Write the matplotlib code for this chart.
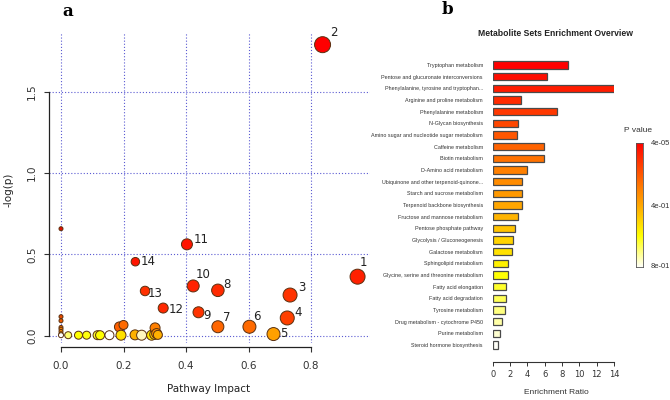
import matplotlib
matplotlib.use('Agg')
import matplotlib.pyplot as plt
import numpy as np
from matplotlib.colors import LinearSegmentedColormap

# ---------------- Panel a data ----------------
impact = [0.949, 0.837, 0.733, 0.724, 0.680, 0.603, 0.502, 0.502, 0.440, 0.423,
          0.403, 0.327, 0.269, 0.238,
          0.0, 0.0, 0.0, 0.0, 0.0, 0.0, 0.0, 0.0,
          0.023, 0.056, 0.082, 0.117, 0.125, 0.155, 0.187, 0.200, 0.192,
          0.237, 0.258, 0.290, 0.300, 0.301, 0.306, 0.310]
neglogp = [0.363, 1.790, 0.250, 0.109, 0.010, 0.055, 0.055, 0.279, 0.144, 0.306,
           0.562, 0.170, 0.275, 0.455,
           0.658, 0.117, 0.092, 0.051, 0.040, 0.026, 0.012, 0.003,
           0.003, 0.003, 0.003, 0.003, 0.003, 0.003, 0.054, 0.066, 0.003,
           0.005, 0.003, 0.003, 0.008, 0.048, 0.013, 0.005]
point_labels = ['1', '2', '3', '4', '5', '6', '7', '8', '9', '10', '11', '12', '13', '14'] + [''] * 24

# styles for panel a (colour and diameter in px)
point_colors = ['#FF2000', '#FF0000', '#FF3300', '#FF4000', '#FFA000', '#FF6A00', '#FF6600',
                '#FF2A00', '#FF3300', '#FF2200', '#FF1500', '#FF2800', '#FF3000', '#FF1500',
                '#E01000', '#E84A00', '#EE5A00', '#F06A00', '#F27A00', '#F48800', '#FFB000', '#FFFFFF',
                '#FFFF70', '#FFFF00', '#FFFF10', '#FFFF30', '#FFFF00', '#FFFFFF', '#FF6000', '#FF6A00', '#FFE000',
                '#FFB000', '#FFF6C0', '#FFE800', '#FFD000', '#FF8000', '#FF9000', '#FFB000']
point_diam = [15, 16, 14, 14, 13, 13, 12, 12.5, 11, 12, 11, 10, 9.5, 8.5,
              4, 4, 4, 4, 4, 4, 4, 5,
              7, 8, 8, 9, 9, 9, 10, 9, 10,
              10, 10, 10, 10, 10, 10, 9]
label_offsets_px = [(6, -14), (11, -12), (12, -8), (11, -5), (10, -1), (7, -10), (9, -9),
                    (9, -6), (8, 3), (10, -11), (14, -5), (13, 1), (10, 3), (13, 0)]

impact_ticks = [0.0, 0.2, 0.4, 0.6, 0.8]
logp_ticks = [0.0, 0.5, 1.0, 1.5]

# ---------------- Panel b data ----------------
pathways = ['Tryptophan metabolism',
            'Pentose and glucuronate interconversions',
            'Phenylalanine, tyrosine and tryptophan...',
            'Arginine and proline metabolism',
            'Phenylalanine metabolism',
            'N-Glycan biosynthesis',
            'Amino sugar and nucleotide sugar metabolism',
            'Caffeine metabolism',
            'Biotin metabolism',
            'D-Amino acid metabolism',
            'Ubiquinone and other terpenoid-quinone...',
            'Starch and sucrose metabolism',
            'Terpenoid backbone biosynthesis',
            'Fructose and mannose metabolism',
            'Pentose phosphate pathway',
            'Glycolysis / Gluconeogenesis',
            'Galactose metabolism',
            'Sphingolipid metabolism',
            'Glycine, serine and threonine metabolism',
            'Fatty acid elongation',
            'Fatty acid degradation',
            'Tyrosine metabolism',
            'Drug metabolism - cytochrome P450',
            'Purine metabolism',
            'Steroid hormone biosynthesis']
enrichment = [8.65, 6.23, 14.8, 3.27, 7.42, 2.96, 2.80, 5.92, 5.92, 3.92, 3.34, 3.34,
              3.34, 2.96, 2.57, 2.30, 2.19, 1.80, 1.80, 1.57, 1.53, 1.42, 1.07, 0.84, 0.65]
ratio_ticks = [0, 2, 4, 6, 8, 10, 12, 14]
pvalue_labels = ['4e-05', '4e-01', '8e-01']

W, H = 670, 400
fig = plt.figure(figsize=(W / 100, H / 100), dpi=100)


def fx(px):
    return px / W


def fy(py):
    return 1 - py / H


# ================= Panel a =================
axL = fig.add_axes([fx(49), fy(343), fx(370 - 49), (343 - 32) / H])
axL.set_xlim(-0.0384, 0.9888)
axL.set_ylim(-0.045, 1.868)
for s in ['top', 'right']:
    axL.spines[s].set_visible(False)
axL.spines['left'].set_bounds(0, 1.5)
axL.spines['bottom'].set_position(('outward', 2.7))
axL.spines['bottom'].set_bounds(0, 0.8)
for s in ['left', 'bottom']:
    axL.spines[s].set_linewidth(0.9)
    axL.spines[s].set_color('#222222')
axL.set_xticks(impact_ticks)
axL.set_xticklabels(['%.1f' % v for v in impact_ticks])
axL.set_yticks(logp_ticks)
axL.set_yticklabels(['%.1f' % v for v in logp_ticks], rotation=90, va='center')
axL.tick_params(axis='x', length=3.5, width=0.8, pad=7, labelsize=7.5, colors='#333333')
axL.tick_params(axis='y', length=3.5, width=0.8, pad=5, labelsize=7.5, colors='#333333')
axL.grid(True, linestyle=(0, (1, 1.8)), color='#5a5ad2', linewidth=0.8)
axL.set_axisbelow(True)

sizes = [(0.72 * d) ** 2 for d in point_diam]
axL.scatter(impact, neglogp, s=sizes, c=point_colors, edgecolors='#5a3010',
            linewidths=0.7, zorder=3, clip_on=False)
for i, lab in enumerate(point_labels):
    if lab:
        dx, dy = label_offsets_px[i]
        axL.annotate(lab, (impact[i], neglogp[i]), xytext=(dx * 0.72, -dy * 0.72),
                     textcoords='offset points', ha='center', va='center',
                     fontsize=8.5, color='#222222', zorder=4, annotation_clip=False)

fig.text(fx(8), fy(190), '-log(p)', rotation=90, ha='center', va='center',
         fontsize=7.5, color='#222222')
fig.text(fx(209), fy(389), 'Pathway Impact', ha='center', va='center',
         fontsize=7.5, color='#222222')
fig.text(fx(68), fy(11), 'a', ha='center', va='center', fontsize=12,
         fontweight='bold', family='DejaVu Serif')

# ================= Panel b =================
cmap = LinearSegmentedColormap.from_list(
    'pv', [(0.0, '#FF0000'), (0.375, '#FF8000'), (0.5, '#FFA500'),
           (0.75, '#FFFF00'), (1.0, '#FFFFF8')])
n = len(pathways)
bar_colors = [cmap(i / (n - 1)) for i in range(n)]

axR = fig.add_axes([fx(492.7), fy(355), fx(614 - 492.7), 300 / H])
axR.barh(range(n), enrichment, height=0.64, color=bar_colors,
         edgecolor='#4a4a4a', linewidth=0.9)
axR.set_xlim(0, 14)
axR.set_ylim(n - 1 + 0.857, -0.857)
for s in ['top', 'right', 'left']:
    axR.spines[s].set_visible(False)
axR.spines['bottom'].set_position(('outward', 5))
axR.spines['bottom'].set_bounds(0, 14)
axR.spines['bottom'].set_linewidth(0.8)
axR.spines['bottom'].set_color('#333333')
axR.set_xticks(ratio_ticks)
axR.set_xticklabels([str(v) for v in ratio_ticks])
axR.tick_params(axis='x', length=3, width=0.7, pad=3, labelsize=6, colors='#333333')
axR.set_yticks(range(n))
axR.set_yticklabels(pathways, fontsize=3.9, family='Liberation Sans', color='#333333')
axR.tick_params(axis='y', length=0, pad=7)

fig.text(fx(556), fy(392), 'Enrichment Ratio', ha='center', va='center',
         fontsize=6, color='#333333', family='Liberation Sans')
fig.text(fx(556), fy(33), 'Metabolite Sets Enrichment Overview', ha='center',
         va='center', fontsize=6.2, fontweight='bold', family='Liberation Sans',
         color='#222222')
fig.text(fx(447), fy(9), 'b', ha='center', va='center', fontsize=12,
         fontweight='bold', family='DejaVu Serif')

# colour bar
axC = fig.add_axes([fx(635.7), fy(266.7), fx(7), 124 / H])
grad = np.linspace(0, 1, 256).reshape(-1, 1)
axC.imshow(grad, aspect='auto', cmap=cmap, origin='upper')
axC.set_xticks([])
axC.set_yticks([])
for s in axC.spines.values():
    s.set_linewidth(0.6)
    s.set_color('#555555')
fig.text(fx(638), fy(131), 'P value', ha='center', va='center', fontsize=6,
         family='Liberation Sans', color='#333333')
for lab, py in zip(pvalue_labels, [143.3, 206, 266.7]):
    fig.text(fx(651), fy(py), lab, ha='left', va='center', fontsize=5.5,
             family='Liberation Sans', color='#333333')

fig.savefig('out.png', dpi=100)
